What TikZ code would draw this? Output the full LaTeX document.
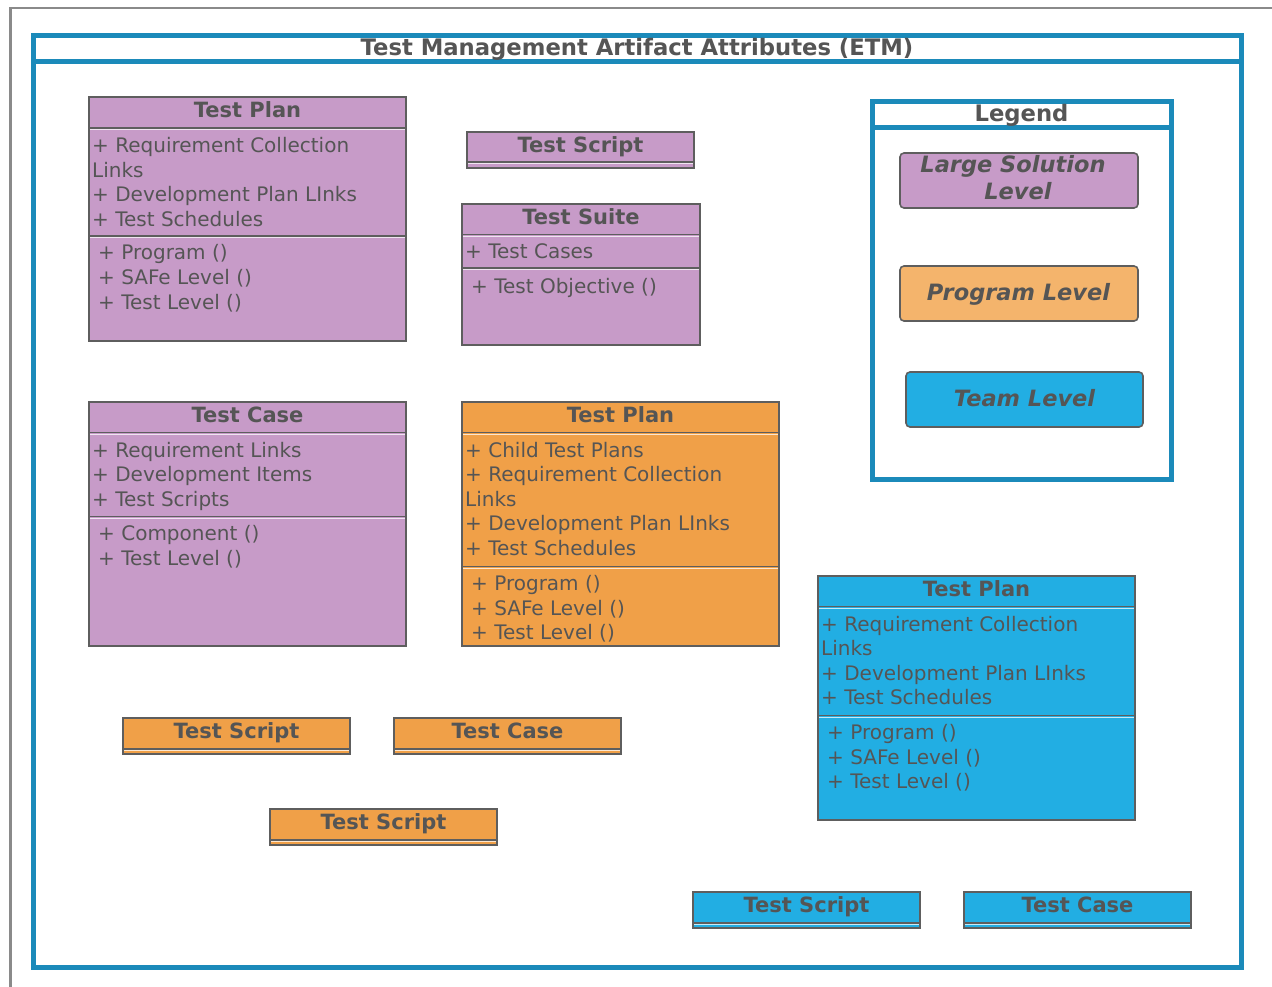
\documentclass[tikz,border=0pt]{standalone}
\usepackage{fontspec}
\setmainfont{DejaVu Sans}
\usetikzlibrary{fit}
\definecolor{purp}{HTML}{C79BC8}
\definecolor{orng}{HTML}{F0A048}
\definecolor{orngl}{HTML}{F4B46C}
\definecolor{blu}{HTML}{22AEE3}
\definecolor{frameblue}{HTML}{1B8ABA}
\definecolor{txt}{HTML}{555555}
\definecolor{bord}{HTML}{5E5E5E}
\definecolor{outerc}{HTML}{8A8A8A}
\tikzset{
  clsbox/.style={draw=bord, line width=1.6pt, inner sep=0pt, outer sep=0pt},
  hdr/.style={font=\bfseries\fontsize{21}{24}\selectfont, text=txt, inner sep=0pt},
  bigtitle/.style={font=\bfseries\fontsize{22.7}{26}\selectfont, text=txt, inner sep=0pt},
  attr/.style={font=\fontsize{20}{24}\selectfont, text=txt, inner sep=0pt, anchor=base west},
  sepdark/.style={draw=bord, line width=1.3pt},
  seplight/.style={draw=white, draw opacity=.75, line width=1pt},
  frm/.style={draw=frameblue, line width=5pt, inner sep=0pt, outer sep=0pt},
  legbox/.style={draw=bord, line width=1.6pt, rounded corners=4pt, inner sep=0pt, outer sep=0pt},
  legtxt/.style={font=\bfseries\itshape\fontsize{22.5}{27}\selectfont, text=txt, inner sep=0pt},
}
\newcommand{\umlcls}[7]{%
  \node[clsbox, fill=#6, fit={(#2,#3)(#4,#5)}] (#1) {};
  \node[hdr, anchor=base] (#1-title) at ([yshift=-20.5pt]#1.north) {#7};
}
\newcommand{\sepline}[3]{%
  \draw[sepdark] (#1,#3) -- (#2,#3);
  \draw[seplight] (#1+1,#3+1.6) -- (#2-1,#3+1.6);
}
\newcommand{\members}[4]{%
  \foreach \m [count=\i] in {#4} { \node[attr] (#1-\i) at (#2, {#3+(\i-1)*24.5}) {\m}; }
}
\begin{document}
\begin{tikzpicture}[x=1pt, y=-1pt]
\useasboundingbox (0,0) rectangle (1272,987);
% outer grey frame
\coordinate (og1) at (10.7,987);
\coordinate (og2) at (10.7,8);
\coordinate (og3) at (1272,8);
\draw[outerc, line width=2.5pt] (og1) -- (og2) -- (og3);
% main frame
\node[frm, fit={(33.3,36)(1241,967.5)}] (main) {};
\draw[frameblue, line width=5pt] (main.west |- 0,62) -- (main.east |- 0,62);
\node[bigtitle, anchor=base] (maintitle) at (637,55.5) {Test Management Artifact Attributes (ETM)};

% purple Test Plan
\umlcls{tp1}{89}{97}{406}{341}{purp}{Test Plan}
\sepline{89}{406}{128}
\sepline{89}{406}{236}
\members{tp1a}{92}{152.7}{+ Requirement Collection, Links, + Development Plan LInks, + Test Schedules}
\members{tp1m}{98}{260}{+ Program (), + SAFe Level (), + Test Level ()}

% purple Test Script
\umlcls{ts1}{467}{132}{694}{168}{purp}{Test Script}
\sepline{467}{694}{162}

% purple Test Suite
\umlcls{tsu}{462}{204}{700}{345}{purp}{Test Suite}
\sepline{462}{700}{234.5}
\sepline{462}{700}{268}
\members{tsua}{465}{258.5}{+ Test Cases}
\members{tsum}{471}{293}{+ Test Objective ()}

% purple Test Case
\umlcls{tc1}{89}{402}{406}{646}{purp}{Test Case}
\sepline{89}{406}{432.5}
\sepline{89}{406}{516.5}
\members{tc1a}{92}{457}{+ Requirement Links, + Development Items, + Test Scripts}
\members{tc1m}{98}{540.5}{+ Component (), + Test Level ()}

% orange Test Plan
\umlcls{tp2}{462}{402}{779}{646}{orng}{Test Plan}
\sepline{462}{779}{432.5}
\sepline{462}{779}{566.5}
\members{tp2a}{465}{457}{+ Child Test Plans, + Requirement Collection, Links, + Development Plan LInks, + Test Schedules}
\members{tp2m}{471}{590.5}{+ Program (), + SAFe Level (), + Test Level ()}

% blue Test Plan
\umlcls{tp3}{818}{576}{1135}{820}{blu}{Test Plan}
\sepline{818}{1135}{606.5}
\sepline{818}{1135}{715.5}
\members{tp3a}{821}{631}{+ Requirement Collection, Links, + Development Plan LInks, + Test Schedules}
\members{tp3m}{827}{739.5}{+ Program (), + SAFe Level (), + Test Level ()}

% small orange boxes
\umlcls{ts2}{123}{718}{350}{754}{orng}{Test Script}
\sepline{123}{350}{749}
\umlcls{tc2}{394}{718}{621}{754}{orng}{Test Case}
\sepline{394}{621}{749}
\umlcls{ts3}{270}{809}{497}{845}{orng}{Test Script}
\sepline{270}{497}{840}

% small blue boxes
\umlcls{ts4}{693}{892}{920}{928}{blu}{Test Script}
\sepline{693}{920}{923}
\umlcls{tc4}{964}{892}{1191}{928}{blu}{Test Case}
\sepline{964}{1191}{923}

% legend
\node[frm, fit={(872.5,101.8)(1171.5,479)}] (legend) {};
\draw[frameblue, line width=5pt] (legend.west |- 0,127.5) -- (legend.east |- 0,127.5);
\node[bigtitle, anchor=base] (legendtitle) at (1021.5,121.7) {Legend};
\node[legbox, fill=purp, fit={(900,153)(1138,208)}] (lgL) {};
\node[legtxt, anchor=base] (lgL-1) at (1013,172.7) {Large Solution};
\node[legtxt, anchor=base] (lgL-2) at (1018,200) {Level};
\node[legbox, fill=orngl, fit={(900,266)(1138,321)}] (lgP) {};
\node[legtxt, anchor=base] (lgP-t) at (1018.5,300.5) {Program Level};
\node[legbox, fill=blu, fit={(906,372)(1143,427)}] (lgT) {};
\node[legtxt, anchor=base] (lgT-t) at (1024.5,406) {Team Level};
\end{tikzpicture}
\end{document}
